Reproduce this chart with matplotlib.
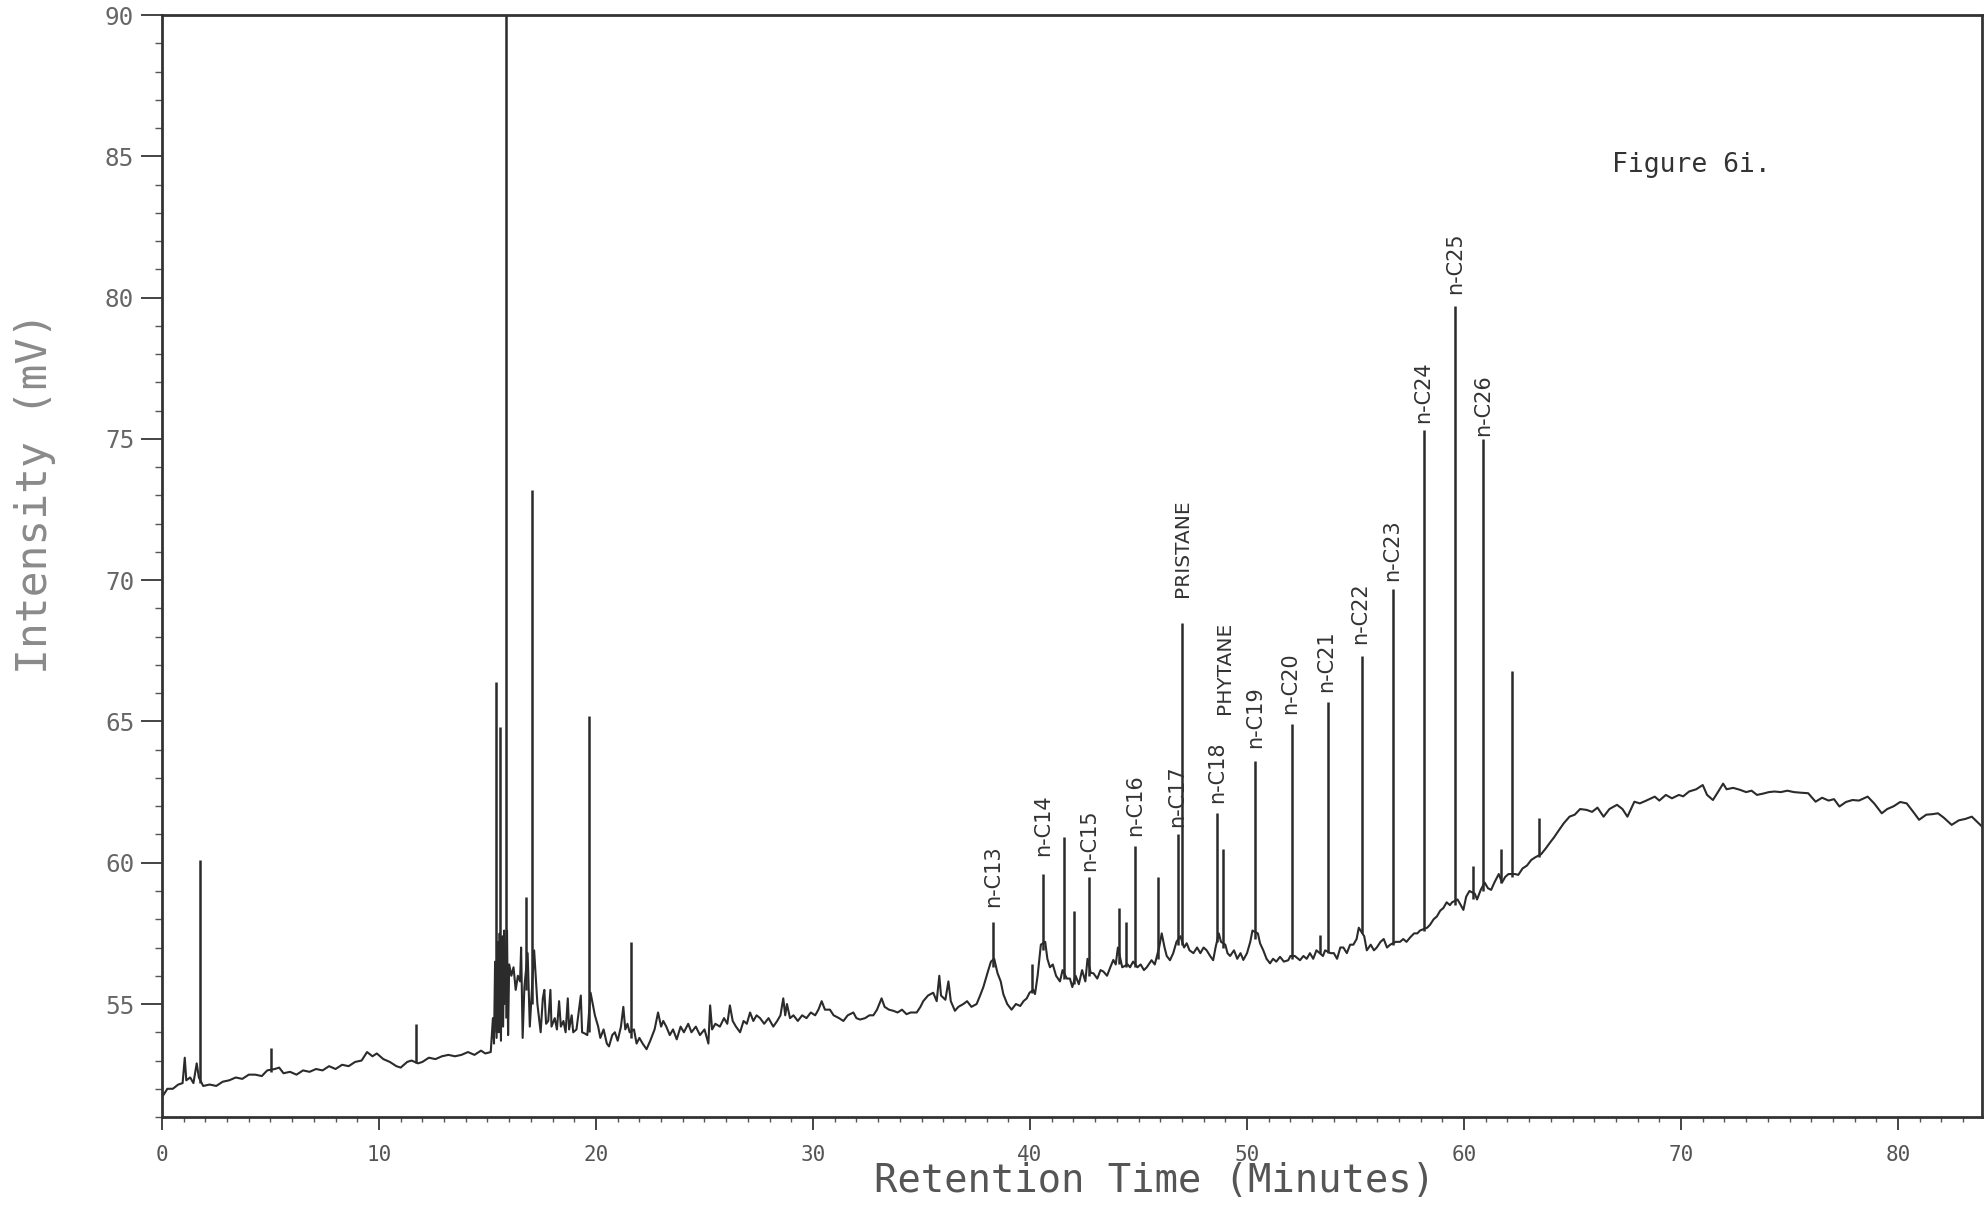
import matplotlib
matplotlib.use("Agg")
import matplotlib.pyplot as plt
from matplotlib.ticker import MultipleLocator

plt.rcParams["font.family"] = ["DejaVu Sans Mono"]
plt.rcParams["xtick.labelsize"] = 15
plt.rcParams["ytick.labelsize"] = 17.5

# baseline trace (retention time in minutes, intensity in mV)
trace_t = [
    0.0, 0.25, 0.5, 0.75, 0.95, 1.05, 1.12, 1.3, 1.45, 1.6, 1.7, 1.9, 2.2, 2.5, 2.8, 3.1, 3.4, 3.7,
    4.0, 4.3, 4.6, 4.85, 5.2, 5.4, 5.6, 5.9, 6.2, 6.5, 6.8, 7.1, 7.4, 7.7, 8.0, 8.3, 8.6, 8.9,
    9.2, 9.45, 9.7, 9.9, 10.2, 10.5, 10.8, 11.0, 11.3, 11.5, 11.8, 12.0, 12.3, 12.6, 12.9, 13.2,
    13.5, 13.8, 14.1, 14.4, 14.7, 14.9, 15.15,
    15.25, 15.3, 15.35, 15.42, 15.47, 15.52, 15.56, 15.62, 15.67, 15.72, 15.77, 15.8, 15.9, 15.95,
    16.0, 16.1, 16.2, 16.3, 16.4, 16.5, 16.55, 16.62, 16.7, 16.85, 16.95, 17.15, 17.3, 17.45,
    17.55, 17.62, 17.7, 17.8, 17.9, 17.95, 18.1, 18.2, 18.3, 18.38, 18.5, 18.6, 18.7, 18.76,
    18.88, 18.95, 19.1, 19.3, 19.36, 19.5, 19.6, 19.75, 19.85, 19.95, 20.1, 20.2, 20.35, 20.5,
    20.6, 20.75, 20.87, 21.0, 21.15, 21.26, 21.35, 21.45, 21.55, 21.75, 21.87, 22.0, 22.15, 22.33,
    22.5, 22.7, 22.86, 23.0, 23.1, 23.24, 23.4, 23.55, 23.72, 23.9, 24.05, 24.25, 24.4, 24.6,
    24.79, 25.0, 25.18, 25.26, 25.35, 25.5, 25.71, 25.9, 26.05, 26.17, 26.3, 26.45, 26.64, 26.8,
    26.95, 27.1, 27.25, 27.4, 27.56, 27.75, 27.95, 28.17, 28.35, 28.5, 28.63, 28.72, 28.8, 28.94,
    29.1, 29.3, 29.5, 29.7, 29.9, 30.1, 30.25, 30.4, 30.55, 30.78, 30.95, 31.2, 31.4, 31.6,
    31.86, 32.0, 32.17, 32.4, 32.6, 32.78, 32.95, 33.16, 33.3, 33.5, 33.7, 33.9, 34.1, 34.31,
    34.5, 34.78, 34.95, 35.08, 35.3, 35.54, 35.7, 35.82, 35.9, 36.1, 36.24, 36.35, 36.54, 36.7,
    36.93, 37.1, 37.3, 37.54, 37.7, 37.85, 38.0, 38.08, 38.2, 38.35, 38.5, 38.65, 38.77, 38.95,
    39.15, 39.35, 39.55, 39.7, 39.85, 39.98, 40.15, 40.23, 40.35, 40.5, 40.7, 40.8, 40.92, 41.05,
    41.2, 41.38, 41.5, 41.7, 41.84, 41.95, 42.1, 42.25, 42.4, 42.55, 42.65, 42.8, 42.92, 43.1,
    43.25, 43.38, 43.55, 43.7, 43.84, 43.95, 44.05, 44.25, 44.5, 44.61, 44.75, 44.95, 45.1, 45.25,
    45.38, 45.6, 45.75, 45.95, 46.07, 46.2, 46.3, 46.45, 46.6, 46.75, 46.93, 47.1, 47.22, 47.35,
    47.53, 47.7, 47.85, 48.0, 48.14, 48.3, 48.44, 48.55, 48.7, 48.8, 49.0, 49.1, 49.22, 49.4,
    49.55, 49.7, 49.83, 50.0, 50.15, 50.25, 50.5, 50.6, 50.75, 50.9, 51.06, 51.2, 51.35, 51.52,
    51.7, 51.9, 52.0, 52.2, 52.44, 52.6, 52.75, 52.9, 53.05, 53.2, 53.5, 53.6, 53.85, 54.0,
    54.15, 54.3, 54.44, 54.6, 54.75, 54.9, 55.05, 55.15, 55.4, 55.52, 55.7, 55.85, 55.98, 56.15,
    56.3, 56.45, 56.6, 56.85, 57.05, 57.2, 57.35, 57.51, 57.7, 57.85, 57.97, 58.3, 58.43, 58.6,
    58.75, 58.9, 59.05, 59.2, 59.35, 59.45, 59.7, 59.85, 59.97, 60.1, 60.25, 60.5, 60.6, 60.77,
    60.95, 61.1, 61.25, 61.4, 61.6, 61.75, 61.9, 62.05, 62.35, 62.5, 62.7, 62.9, 63.1, 63.3,
    63.55, 63.76, 63.95, 64.15, 64.38, 64.6, 64.86, 65.1, 65.35, 65.65, 65.9, 66.15, 66.43, 66.7,
    67.05, 67.3, 67.53, 67.85, 68.1, 68.4, 68.79, 69.0, 69.3, 69.58, 69.9, 70.1, 70.37, 70.7,
    71.0, 71.2, 71.47, 71.7, 71.94, 72.1, 72.4, 72.72, 73.0, 73.25, 73.5, 73.8, 74.05, 74.3,
    74.6, 74.9, 75.2, 75.5, 75.86, 76.2, 76.5, 76.8, 77.05, 77.3, 77.6, 77.9, 78.2, 78.6,
    78.9, 79.25, 79.5, 79.8, 80.1, 80.4, 80.7, 80.97, 81.3, 81.6, 81.84, 82.1, 82.47, 82.8,
    83.1, 83.4, 83.87,
]
trace_v = [
    51.7, 52.0, 52.0, 52.15, 52.2, 53.1, 52.3, 52.4, 52.2, 52.9, 52.4, 52.1, 52.15, 52.1, 52.25, 52.3, 52.4, 52.35,
    52.5, 52.5, 52.45, 52.65, 52.7, 52.75, 52.55, 52.6, 52.5, 52.65, 52.6, 52.7, 52.65, 52.8, 52.7, 52.85, 52.8, 52.95,
    53.0, 53.3, 53.15, 53.25, 53.05, 52.95, 52.8, 52.75, 52.95, 53.0, 52.9, 52.95, 53.1, 53.05, 53.15, 53.2,
    53.15, 53.2, 53.3, 53.2, 53.35, 53.25, 53.3,
    54.5, 53.6, 56.5, 53.8, 57.2, 54.0, 57.5, 53.7, 57.4, 54.2, 57.6, 55.0, 57.6, 53.9,
    56.4, 56.0, 56.3, 55.5, 56.0, 55.8, 57.0, 53.8, 55.6, 56.8, 54.2, 56.9, 55.0, 54.0,
    55.2, 55.5, 54.3, 54.4, 55.5, 54.2, 54.5, 54.1, 55.1, 54.2, 54.4, 54.0, 55.2, 54.1,
    54.6, 54.0, 54.1, 55.3, 54.0, 53.95, 53.9, 55.4, 55.0, 54.6, 54.2, 53.8, 54.1, 53.6,
    53.5, 53.9, 54.0, 53.7, 54.2, 54.9, 54.1, 54.3, 54.0, 54.1, 53.6, 53.8, 53.6, 53.4,
    53.7, 54.1, 54.7, 54.2, 54.4, 54.2, 53.9, 54.1, 53.75, 54.2, 54.0, 54.3, 54.0, 54.2,
    53.9, 54.1, 53.6, 54.95, 54.1, 54.3, 54.2, 54.5, 54.3, 54.95, 54.4, 54.2, 54.0, 54.4,
    54.3, 54.7, 54.4, 54.6, 54.5, 54.3, 54.5, 54.2, 54.4, 54.6, 55.2, 54.6, 55.0, 54.5,
    54.6, 54.4, 54.6, 54.5, 54.7, 54.6, 54.8, 55.1, 54.8, 54.8, 54.6, 54.5, 54.4, 54.6,
    54.7, 54.5, 54.45, 54.5, 54.6, 54.6, 54.8, 55.2, 54.9, 54.8, 54.76, 54.7, 54.8, 54.64,
    54.7, 54.7, 54.9, 55.1, 55.3, 55.4, 55.1, 56.0, 55.3, 55.15, 55.8, 55.1, 54.76, 54.9,
    55.0, 55.1, 54.9, 55.0, 55.3, 55.6, 56.0, 56.2, 56.5, 56.6, 56.1, 55.8, 55.35, 55.0,
    54.8, 55.0, 54.93, 55.1, 55.2, 55.4, 55.5, 55.35, 56.0, 57.1, 57.2, 56.6, 56.3, 56.4,
    56.0, 55.8, 56.2, 55.9, 55.9, 55.6, 56.0, 55.7, 56.2, 55.8, 56.6, 56.1, 56.09, 55.9,
    56.2, 56.15, 56.0, 56.3, 56.56, 56.4, 57.0, 56.3, 56.4, 56.3, 56.5, 56.3, 56.4, 56.2,
    56.3, 56.55, 56.4, 57.0, 57.5, 57.0, 56.7, 56.55, 56.8, 57.2, 57.4, 57.0, 57.15, 56.9,
    56.8, 57.0, 56.8, 57.0, 56.9, 56.7, 56.55, 57.0, 57.5, 57.2, 57.1, 56.8, 56.7, 56.9,
    56.6, 56.8, 56.56, 56.8, 57.2, 57.6, 57.5, 57.15, 56.9, 56.6, 56.44, 56.6, 56.5, 56.67,
    56.5, 56.55, 56.7, 56.7, 56.55, 56.7, 56.6, 56.8, 56.6, 56.9, 56.7, 56.9, 56.8, 56.8,
    56.6, 57.0, 57.0, 56.8, 57.1, 57.1, 57.3, 57.7, 57.4, 56.9, 57.1, 56.9, 57.0, 57.2,
    57.3, 57.0, 57.1, 57.2, 57.2, 57.3, 57.2, 57.35, 57.5, 57.5, 57.6, 57.7, 57.8, 58.0,
    58.1, 58.3, 58.4, 58.6, 58.5, 58.6, 58.7, 58.5, 58.33, 58.8, 59.0, 58.9, 58.7, 59.04,
    59.3, 59.1, 59.04, 59.3, 59.6, 59.3, 59.5, 59.6, 59.6, 59.57, 59.8, 59.9, 60.1, 60.2,
    60.3, 60.5, 60.7, 60.9, 61.16, 61.4, 61.63, 61.7, 61.9, 61.87, 61.8, 61.95, 61.63, 61.9,
    62.05, 61.9, 61.63, 62.16, 62.1, 62.2, 62.34, 62.2, 62.4, 62.28, 62.4, 62.35, 62.52, 62.6,
    62.75, 62.4, 62.22, 62.5, 62.8, 62.6, 62.65, 62.58, 62.5, 62.55, 62.4, 62.45, 62.5, 62.52,
    62.5, 62.55, 62.5, 62.48, 62.46, 62.16, 62.3, 62.2, 62.25, 61.99, 62.15, 62.22, 62.2, 62.34,
    62.1, 61.75, 61.9, 62.0, 62.15, 62.1, 61.8, 61.52, 61.7, 61.72, 61.75, 61.6, 61.34, 61.5,
    61.55, 61.63, 61.28,
]

# sharp peaks: retention time, foot and apex (mV)
peak_t = [1.77, 5.01, 11.69, 15.39, 15.58, 15.84, 16.78, 17.07, 19.68, 21.60,
          38.28, 40.08, 40.60, 41.58, 42.03, 42.73, 44.12, 44.41, 44.84, 45.88,
          46.84, 47.02, 48.63, 48.91, 50.38, 52.09, 53.36, 53.72, 55.28, 56.74,
          58.16, 59.57, 60.43, 60.89, 61.70, 62.21, 63.47]
peak_base = [52.2, 52.6, 52.9, 54.0, 54.0, 54.5, 55.5, 55.0, 54.0, 53.8,
             56.3, 55.4, 56.9, 55.9, 55.7, 56.0, 56.4, 56.3, 56.3, 56.6,
             57.1, 57.1, 57.2, 57.0, 57.3, 56.6, 56.8, 56.8, 57.5, 57.1,
             57.6, 58.5, 58.7, 59.0, 59.3, 59.5, 60.2]
peak_top = [60.1, 53.45, 54.3, 66.4, 64.8, 90.0, 58.8, 73.2, 65.2, 57.2,
            57.9, 56.4, 59.6, 60.9, 58.3, 59.5, 58.4, 57.9, 60.6, 59.5,
            61.0, 68.5, 61.75, 60.5, 63.6, 64.9, 57.45, 65.7, 67.3, 69.7,
            75.3, 79.7, 59.9, 75.0, 60.5, 66.8, 61.6]

# peak annotations: text, time, bottom of text (mV)
label_text = ["n-C13", "n-C14", "n-C15", "n-C16", "n-C17", "PRISTANE", "n-C18", "PHYTANE",
              "n-C19", "n-C20", "n-C21", "n-C22", "n-C23", "n-C24", "n-C25", "n-C26"]
label_t = [38.28, 40.60, 42.73, 44.84, 46.76, 47.02, 48.63, 48.98,
           50.38, 52.0, 53.65, 55.2, 56.7, 58.1, 59.6, 60.9]
label_v = [58.44, 60.23, 59.7, 60.94, 61.26, 69.4, 62.1, 65.28,
           64.07, 65.28, 66.04, 67.74, 69.97, 75.56, 80.12, 75.11]

line_color = "#2b2b2b"

fig = plt.figure(figsize=(19.85, 12.05), dpi=100)
ax = fig.add_axes([0.0816, 0.0730, 0.9169, 0.9145])

ax.plot(trace_t, trace_v, color=line_color, linewidth=1.5)
ax.vlines(peak_t, peak_base, peak_top, color=line_color, linewidth=1.8)

for text, t, v in zip(label_text, label_t, label_v):
    size = 14.5 if text.isupper() else 15
    ax.text(t, v, text, rotation=90, ha="center", va="bottom",
            fontsize=size, color="#333333", family="DejaVu Sans")

ax.set_xlim(0, 83.87)
ax.set_ylim(51, 90)

ax.xaxis.set_major_locator(MultipleLocator(10))
ax.xaxis.set_minor_locator(MultipleLocator(1))
ax.yaxis.set_major_locator(MultipleLocator(5))
ax.yaxis.set_minor_locator(MultipleLocator(1))

for side in ["left", "bottom", "top", "right"]:
    ax.spines[side].set_linewidth(2.0)
    ax.spines[side].set_color("#333333")

ax.tick_params(axis="y", which="major", direction="out", length=15, width=1.4,
               color="#444444", pad=5, labelcolor="#666666")
ax.tick_params(axis="y", which="minor", direction="out", length=5, width=1.0, color="#555555")
ax.tick_params(axis="x", which="major", direction="out", length=9, width=1.4,
               color="#444444", pad=11, labelcolor="#555555")
ax.tick_params(axis="x", which="minor", direction="out", length=3.5, width=1.0, color="#555555")

ax.set_xlabel("Retention Time (Minutes)", fontsize=28, color="#555555", va="center")
ax.xaxis.set_label_coords(0.5456, -0.058)
ax.set_ylabel("Intensity (mV)", fontsize=31, color="#8a8a8a", va="center")
ax.yaxis.set_label_coords(-0.0698, 0.566)

ax.text(0.7967, 0.8639, "Figure 6i.", transform=ax.transAxes, ha="left", va="center",
        fontsize=19, color="#333333")

fig.savefig("out.png", dpi=100)
